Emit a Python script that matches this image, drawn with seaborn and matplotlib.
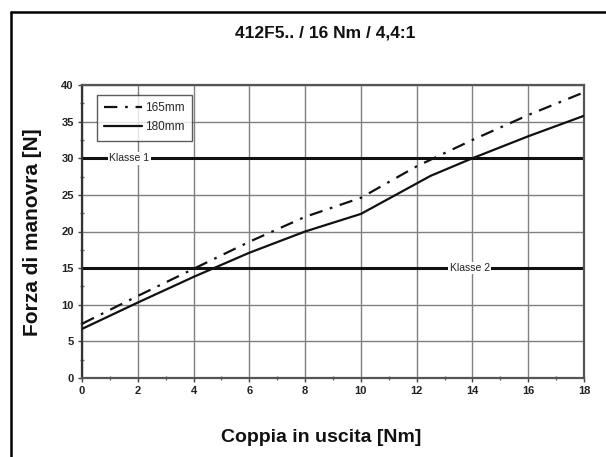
import matplotlib
matplotlib.use("Agg")
import matplotlib.pyplot as plt
from matplotlib.lines import Line2D
from matplotlib.ticker import MultipleLocator
import seaborn as sns
import pandas as pd

title = "412F5.. / 16 Nm / 4,4:1"
x_label = "Coppia in uscita [Nm]"
y_label = "Forza di manovra [N]"

x_165 = [0, 2, 4, 6, 8, 10, 12, 14, 16, 18]
y_165 = [7.4, 11.2, 14.9, 18.6, 22.0, 24.6, 28.9, 32.5, 35.9, 39.0]
x_180 = [0, 2, 4, 6, 8, 10, 12.5, 14, 16, 18]
y_180 = [6.7, 10.3, 13.8, 17.1, 20.0, 22.4, 27.6, 30.0, 33.0, 35.8]

klasse_names = ["Klasse 1", "Klasse 2"]
klasse_values = [30, 15]
klasse_label_x = [1.7, 13.9]

sns.set_theme(style="white")
plt.rcParams['font.family'] = ['Liberation Sans', 'DejaVu Sans']

fig = plt.figure(figsize=(6.06, 4.57), dpi=100)
ax = fig.add_axes([82/606, 1-378/457, (584-82)/606, (378-85)/457])

df165 = pd.DataFrame({"x": x_165, "y": y_165})
df180 = pd.DataFrame({"x": x_180, "y": y_180})

ax.xaxis.set_major_locator(MultipleLocator(2))
ax.xaxis.set_minor_locator(MultipleLocator(1))
ax.yaxis.set_major_locator(MultipleLocator(5))
ax.yaxis.set_minor_locator(MultipleLocator(2.5))
ax.grid(True, which="major", color="#808080", linewidth=1.0)
ax.set_axisbelow(True)

for name, val, lx in zip(klasse_names, klasse_values, klasse_label_x):
    ax.axhline(val, color="#111111", linewidth=2.2, zorder=2)
    ax.text(lx, val, name, ha="center", va="center", fontsize=7.5,
            color="#222222", zorder=3,
            bbox=dict(facecolor="white", edgecolor="none", pad=1.0))

sns.lineplot(data=df165, x="x", y="y", ax=ax, color="#111111", linewidth=1.6,
             label="165mm", dashes=False, zorder=4)
sns.lineplot(data=df180, x="x", y="y", ax=ax, color="#111111", linewidth=1.6,
             label="180mm", zorder=4)
ax.lines[-2].set_dashes([6, 3.5, 1.2, 3.5])

ax.set_xlim(0, 18)
ax.set_ylim(0, 40)
ax.set_xlabel("")
ax.set_ylabel("")

for s in ax.spines.values():
    s.set_color("#555555")
    s.set_linewidth(1.6)
ax.spines["left"].set_color("#333333")

ax.tick_params(axis="both", which="major", length=3, width=1, color="#444444",
               labelsize=8, labelcolor="#222222", direction="out", pad=3,
               bottom=True, left=True)
ax.tick_params(axis="both", which="minor", length=3, width=1, color="#666666",
               direction="inout", bottom=True, left=True)
for lbl in ax.get_xticklabels() + ax.get_yticklabels():
    lbl.set_fontweight("bold")

leg = ax.legend(loc="upper left", bbox_to_anchor=(0.018, 0.985), fontsize=8.5,
                frameon=True, fancybox=False, handlelength=3.2,
                borderpad=0.6, labelspacing=0.6, handletextpad=0.3)
leg.get_frame().set_edgecolor("#333333")
leg.get_frame().set_linewidth(1.0)
leg.get_lines()[0].set_dashes([6, 3.5, 1.2, 3.5])

fig.text(325/606, 1-33/457, title, ha="center", va="center",
         fontsize=12.5, fontweight="bold", color="#111111")
fig.text(321/606, 1-437/457, x_label, ha="center", va="center",
         fontsize=14, fontweight="bold", color="#111111")
fig.text(33/606, 1-232/457, y_label, ha="center", va="center", rotation=90,
         fontsize=15, fontweight="bold", color="#111111")

fig.add_artist(Line2D([10.5/606, 10.5/606], [0, 1-11.5/457], color="black",
                      linewidth=1.8, transform=fig.transFigure))
fig.add_artist(Line2D([10.5/606, 1], [1-11.5/457, 1-11.5/457], color="black",
                      linewidth=1.8, transform=fig.transFigure))

fig.savefig("out.png", dpi=100)
